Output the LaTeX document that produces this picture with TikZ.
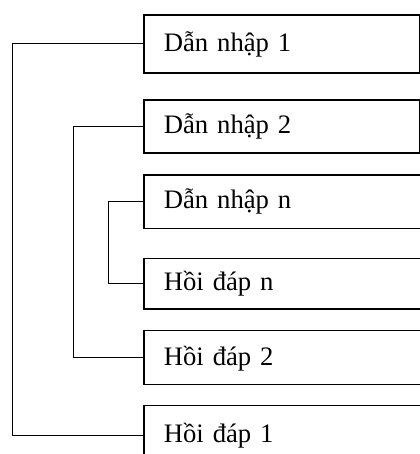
\documentclass[tikz,border=0pt]{standalone}
\usepackage{fontspec}
\setmainfont{Liberation Serif}
\usepackage{tikz}
\usetikzlibrary{positioning}

\begin{document}
\begin{tikzpicture}[
			x=0.75pt, y=-0.75pt,
			box/.style={
				draw,
				rectangle,
				line width=0.9pt,
				anchor=north west,
				inner xsep=15pt,
				inner ysep=0pt,
				text width=177pt,
				text height=15pt,
				text depth=4pt,
				align=left,
				font=\fontsize{20}{24}\selectfont
			},
			wide/.style={text width=188pt},
			link/.style={line width=0.8pt}
			]
			
			\useasboundingbox (0,0) rectangle (420,454);
			
			% Outer pair
			\node[box, minimum height=43.5pt] (d1) at (143.3,14.3) {Dẫn nhập 1};
			\node[box, wide, minimum height=45pt] (h1) at (143.3,405) {Hồi đáp 1};
			
			% Middle pair
			\node[box, minimum height=39.75pt] (d2) at (143.3,99.3) {Dẫn nhập 2};
			\node[box, wide, minimum height=40.7pt] (h2) at (143.3,330) {Hồi đáp 2};
			
			% Inner pair
			\node[box, wide, minimum height=40pt] (dn) at (143.3,174.3) {Dẫn nhập n};
			\node[box, wide, minimum height=38pt] (hn) at (143.3,257.7) {Hồi đáp n};
			
			% Brackets joining each pair
			\draw[link] (d1.west) -- ++(-131,0) |- (h1.west);
			\draw[link] (d2.west) -- ++(-70,0) |- (h2.west);
			\draw[link] (dn.west) -- ++(-35,0) |- (hn.west);
			
		\end{tikzpicture}
\end{document}
